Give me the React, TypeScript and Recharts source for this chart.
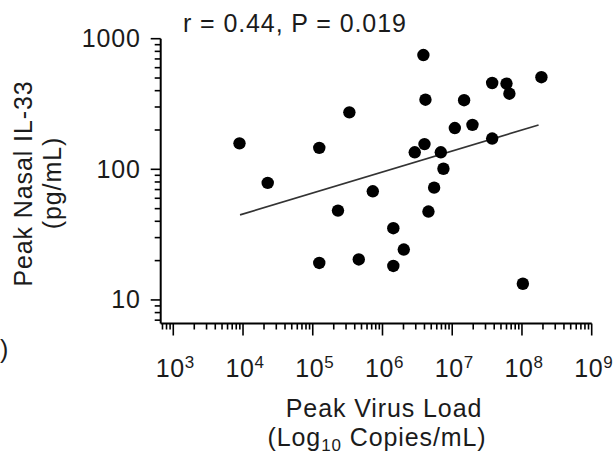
import React from 'react'
import { ScatterChart, Scatter, XAxis, YAxis, ReferenceLine } from 'recharts'

// peak virus load (copies/mL) and peak nasal IL-33 (pg/mL)
const virusLoad = [
  8.9e3, 2.26e4, 1.24e5, 1.24e5, 2.3e5, 3.35e5, 4.57e5, 7.26e5, 1.43e6, 1.43e6,
  2.02e6, 2.9e6, 3.86e6, 4.13e6, 4.0e6, 4.56e6, 5.5e6, 6.86e6, 7.48e6, 1.09e7,
  1.48e7, 1.95e7, 3.74e7, 3.74e7, 6.0e7, 6.6e7, 1.03e8, 1.9e8,
]
const il33 = [
  158, 78.7, 146, 19.2, 48.3, 273, 20.4, 67.9, 35.4, 18.2,
  24.3, 135, 750, 341, 156, 47.5, 72.4, 135, 101, 207,
  338, 219, 458, 172, 453, 379, 13.3, 507,
]

// fitted regression line end points
const fitX = [9.06e3, 1.73e8]
const fitY = [44.8, 218.6]

const xDomain = [660, 1e9]
const yDomain = [6.6, 1000]
const xExponents = [2, 3, 4, 5, 6, 7, 8, 9]
const yExponents = [0, 1, 2, 3]
const multipliers = [1, 2, 3, 4, 5, 6, 7, 8, 9]

const title = 'r = 0.44, P = 0.019'

const points = virusLoad.map((v, i) => ({ x: v, y: il33[i] }))

const makeTicks = (exps: number[], dom: number[]) =>
  exps
    .flatMap((e) => multipliers.map((m) => m * Math.pow(10, e)))
    .filter((t) => t >= dom[0] && t <= dom[1] * 1.0001)

const xTicks = makeTicks(xExponents, xDomain)
const yTicks = makeTicks(yExponents, yDomain)

const isMajor = (v: number) => {
  const l = Math.log10(v)
  return Math.abs(l - Math.round(l)) < 1e-6
}

const font = 'Arial, "Liberation Sans", Helvetica, sans-serif'
const ink = '#1b1b1b'

const XTick = ({ x, y, payload }: any) => {
  const v = payload.value
  const major = isMajor(v)
  return (
    <g>
      <line x1={x} y1={y} x2={x} y2={y + (major ? 12 : 6)} stroke="#000" strokeWidth={1.6} />
      {major && (
        <text x={x + 2} y={y + 53.5} textAnchor="middle" fontSize={25} fill={ink} fontFamily={font} letterSpacing={0.6}>
          <tspan>10</tspan>
          <tspan dy={-9.5} fontSize={17}>{Math.round(Math.log10(v))}</tspan>
        </text>
      )}
    </g>
  )
}

const YTick = ({ x, y, payload }: any) => {
  const v = payload.value
  const major = isMajor(v)
  return (
    <g>
      <line x1={x} y1={y} x2={x - (major ? 10 : 6)} y2={y} stroke="#000" strokeWidth={1.6} />
      {major && (
        <text x={x - 20} y={y + 8.5} textAnchor="end" fontSize={25} fill={ink} fontFamily={font} letterSpacing={0.8}>
          {v}
        </text>
      )}
    </g>
  )
}

const Dot = ({ cx, cy }: any) => <circle cx={cx} cy={cy} r={6.2} fill="#000" />

export default function App() {
  return (
    <div style={{ position: 'absolute', left: 0, top: 0, width: 615, height: 456, background: '#fff' }}>
      <ScatterChart width={615} height={456} margin={{ top: 38.7, right: 23.3, bottom: 0, left: 0.7 }}>
        <XAxis
          type="number"
          dataKey="x"
          scale="log"
          domain={xDomain}
          allowDataOverflow
          ticks={xTicks}
          interval={0}
          tick={<XTick />}
          tickLine={false}
          tickSize={0}
          tickMargin={0}
          height={132.5}
          axisLine={{ stroke: '#000', strokeWidth: 2 }}
        />
        <YAxis
          type="number"
          dataKey="y"
          scale="log"
          domain={yDomain}
          allowDataOverflow
          ticks={yTicks}
          interval={0}
          tick={<YTick />}
          tickLine={false}
          tickSize={0}
          tickMargin={0}
          width={160}
          axisLine={{ stroke: '#000', strokeWidth: 2 }}
        />
        <ReferenceLine
          segment={[
            { x: fitX[0], y: fitY[0] },
            { x: fitX[1], y: fitY[1] },
          ]}
          stroke="#333"
          strokeWidth={1.6}
        />
        <Scatter data={points} shape={<Dot />} isAnimationActive={false} />
      </ScatterChart>
      <svg width={615} height={456} style={{ position: 'absolute', left: 0, top: 0, pointerEvents: 'none' }}>
        <g fontFamily={font} fill={ink} fontSize={25} letterSpacing={0.9}>
          <text x={183} y={31.7}>{title}</text>
          <text x={384} y={417} textAnchor="middle">Peak Virus Load</text>
          <text x={377} y={445.5} textAnchor="middle">
            <tspan>(Log</tspan>
            <tspan dy={5.5} fontSize={17}>10</tspan>
            <tspan dy={-5.5}> Copies/mL)</tspan>
          </text>
          <text transform="translate(32,183.5) rotate(-90)" textAnchor="middle">Peak Nasal IL-33</text>
          <text transform="translate(61,183) rotate(-90)" textAnchor="middle">(pg/mL)</text>
          <text x={0} y={358}>)</text>
        </g>
      </svg>
    </div>
  )
}
